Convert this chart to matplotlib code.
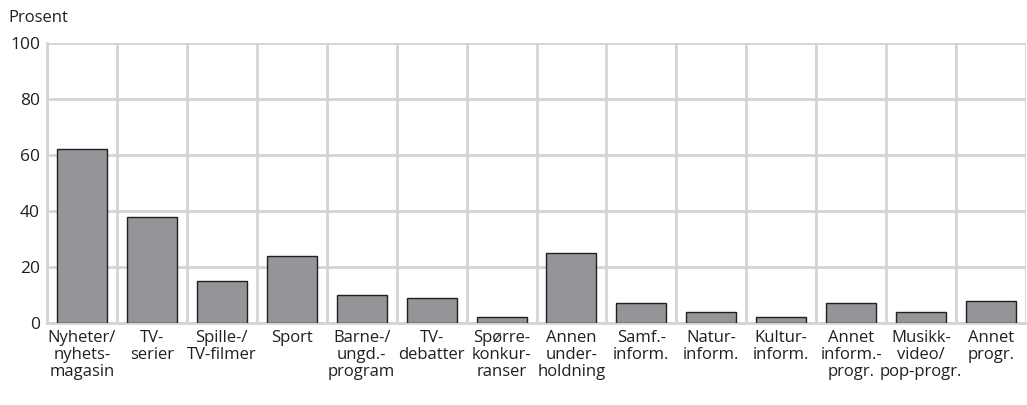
import numpy as np
import matplotlib.pyplot as plt

plt.rcParams['font.family'] = ['Open Sans', 'DejaVu Sans']

# Data
kategorier = ["Nyheter/\nnyhets-\nmagasin", "TV-\nserier", "Spille-/\nTV-filmer", "Sport",
              "Barne-/\nungd.-\nprogram", "TV-\ndebatter", "Spørre-\nkonkur-\nranser",
              "Annen\nunder-\nholdning", "Samf.-\ninform.", "Natur-\ninform.", "Kultur-\ninform.",
              "Annet\ninform.-\nprogr.", "Musikk-\nvideo/\npop-progr.", "Annet\nprogr."]
prosent = [62, 38, 15, 24, 10, 9, 2, 25, 7, 4, 2, 7, 4, 8]
y_ticks = [0, 20, 40, 60, 80, 100]

grid_col = "#d4d4d4"

fig = plt.figure(figsize=(10.27, 4.05), dpi=100)
ax = fig.add_axes([47 / 1027, (405 - 323) / 405, 979 / 1027, 280 / 405])

x = np.arange(len(prosent))
ax.bar(x, prosent, width=0.714, color="#939598", edgecolor="#231f20", linewidth=1.0, zorder=3)

ax.set_xlim(-0.5, len(prosent) - 0.5)
ax.set_ylim(0, 100)

ax.set_yticks(y_ticks)
ax.set_yticklabels([str(v) for v in y_ticks], fontsize=12.5, color="#231f20")
ax.set_xticks(x)
ax.set_xticklabels(kategorier, fontsize=12, color="#231f20", linespacing=1.08)
ax.set_xticks(np.arange(-0.5, len(prosent), 1), minor=True)
ax.tick_params(axis="both", which="both", length=0)
ax.tick_params(axis="y", pad=5)
ax.tick_params(axis="x", pad=5)

ax.grid(True, axis="y", which="major", color=grid_col, linewidth=2, zorder=0)
ax.grid(True, axis="x", which="minor", color=grid_col, linewidth=2, zorder=0)
ax.grid(False, axis="x", which="major")

for s in ["top", "right"]:
    ax.spines[s].set_visible(False)
for s in ["left", "bottom"]:
    ax.spines[s].set_color(grid_col)
    ax.spines[s].set_linewidth(2)

fig.text(8 / 1027, 1 - 18 / 405, "Prosent", fontsize=12, color="#231f20", va="center", ha="left")

fig.savefig("out.png", dpi=100)
